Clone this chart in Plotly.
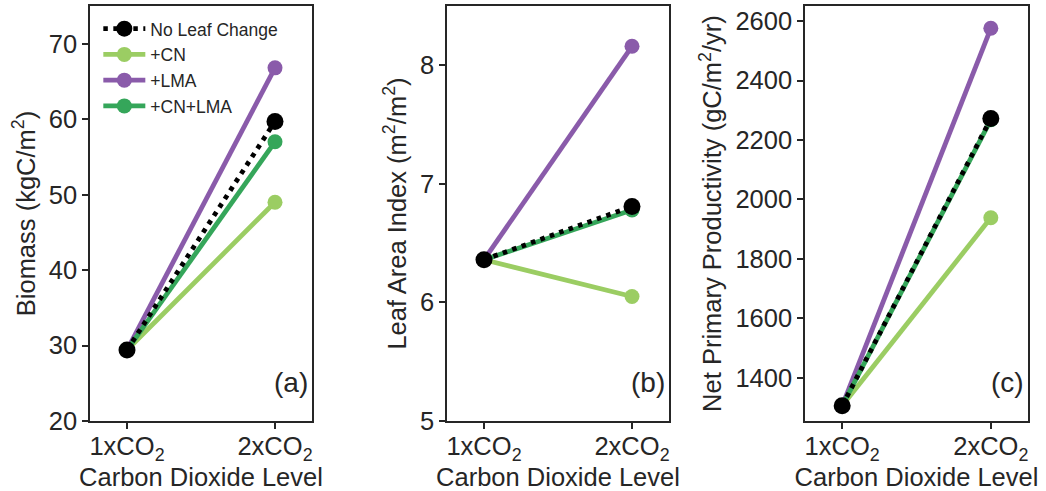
import plotly.graph_objects as go

levels = ["1xCO<sub>2</sub>", "2xCO<sub>2</sub>"]
xpos = [0, 1]

series_names = ["No Leaf Change", "+CN", "+LMA", "+CN+LMA"]
colors = {"No Leaf Change": "#000000", "+CN": "#9BCD63", "+LMA": "#8A5BAA", "+CN+LMA": "#35A65A"}

biomass = {
    "No Leaf Change": [29.4, 59.7],
    "+CN": [29.4, 49.0],
    "+LMA": [29.4, 66.8],
    "+CN+LMA": [29.4, 57.0],
}
lai = {
    "No Leaf Change": [6.36, 6.81],
    "+CN": [6.36, 6.05],
    "+LMA": [6.36, 8.16],
    "+CN+LMA": [6.36, 6.78],
}
npp = {
    "No Leaf Change": [1305, 2272],
    "+CN": [1305, 1938],
    "+LMA": [1305, 2576],
    "+CN+LMA": [1305, 2268],
}

panels = [
    ("x", "y", biomass, "Biomass (kgC/m<sup>2</sup>)", [20, 75], [20, 30, 40, 50, 60, 70], "(a)"),
    ("x2", "y2", lai, "Leaf Area Index (m<sup>2</sup>/m<sup>2</sup>)", [5, 8.5], [5, 6, 7, 8], "(b)"),
    ("x3", "y3", npp, "Net Primary Productivity (gC/m<sup>2</sup>/yr)", [1254, 2651], [1400, 1600, 1800, 2000, 2200, 2400, 2600], "(c)"),
]

FONT = "Liberation Sans, Arial, sans-serif"
TXT = "#262626"
FS = 25.5
fig = go.Figure()

draw_order = ["+CN", "+LMA", "+CN+LMA", "No Leaf Change"]
for i, (xa, ya, data, ytitle, yr, ytv, lab) in enumerate(panels):
    for name in draw_order:
        black = name == "No Leaf Change"
        fig.add_trace(go.Scatter(
            x=xpos, y=data[name], xaxis=xa, yaxis=ya, mode="lines+markers",
            name=name, legendgroup=name, showlegend=(i == 0),
            legendrank=series_names.index(name) + 1,
            line=dict(color=colors[name], width=4.8, dash="4.5px,5.5px" if black else "solid"),
            marker=dict(color=colors[name], size=17 if black else 15),
        ))

domains = [(90 / 1046, 312 / 1046), (447 / 1046, 669 / 1046), (805 / 1046, 1028 / 1046)]
ydom = [1 - 421 / 491, 1 - 6 / 491]
axis_common = dict(showline=True, linecolor=TXT, linewidth=1.5, mirror=True, ticks="outside",
                   ticklen=6, tickwidth=1.5, tickcolor=TXT, showgrid=False, zeroline=False,
                   automargin=False, tickfont=dict(family=FONT, size=FS, color=TXT))
layout = dict(
    width=1046, height=491, margin=dict(l=0, r=0, t=0, b=0, autoexpand=False),
    plot_bgcolor="white", paper_bgcolor="white",
    font=dict(family=FONT, color=TXT),
    legend=dict(x=0.094, y=0.978, xanchor="left", yanchor="top", bgcolor="rgba(0,0,0,0)",
                font=dict(family=FONT, size=17.5, color=TXT), tracegroupgap=0, itemwidth=42),
)
for i, (xa, ya, data, ytitle, yr, ytv, lab) in enumerate(panels):
    sfx = "" if i == 0 else str(i + 1)
    layout["xaxis" + sfx] = dict(domain=domains[i], anchor="y" + sfx, range=[-0.25, 1.25],
                                 tickvals=xpos, ticktext=levels, ticklabelstandoff=-4,
                                 title=dict(text="Carbon Dioxide Level", font=dict(family=FONT, size=FS, color=TXT), standoff=8),
                                 **axis_common)
    layout["yaxis" + sfx] = dict(domain=ydom, anchor="x" + sfx, range=yr, tickvals=ytv,
                                 title=dict(text=ytitle, font=dict(family=FONT, size=FS, color=TXT), standoff=6),
                                 **axis_common)
fig.update_layout(**layout)
for i, (xa, ya, data, ytitle, yr, ytv, lab) in enumerate(panels):
    sfx = "" if i == 0 else str(i + 1)
    fig.add_annotation(text=lab, xref="x" + sfx + " domain", yref="y" + sfx + " domain",
                       x=0.99, y=0.05, xanchor="right", yanchor="bottom", showarrow=False,
                       font=dict(family=FONT, size=28, color=TXT))

fig.write_html("out.html")
